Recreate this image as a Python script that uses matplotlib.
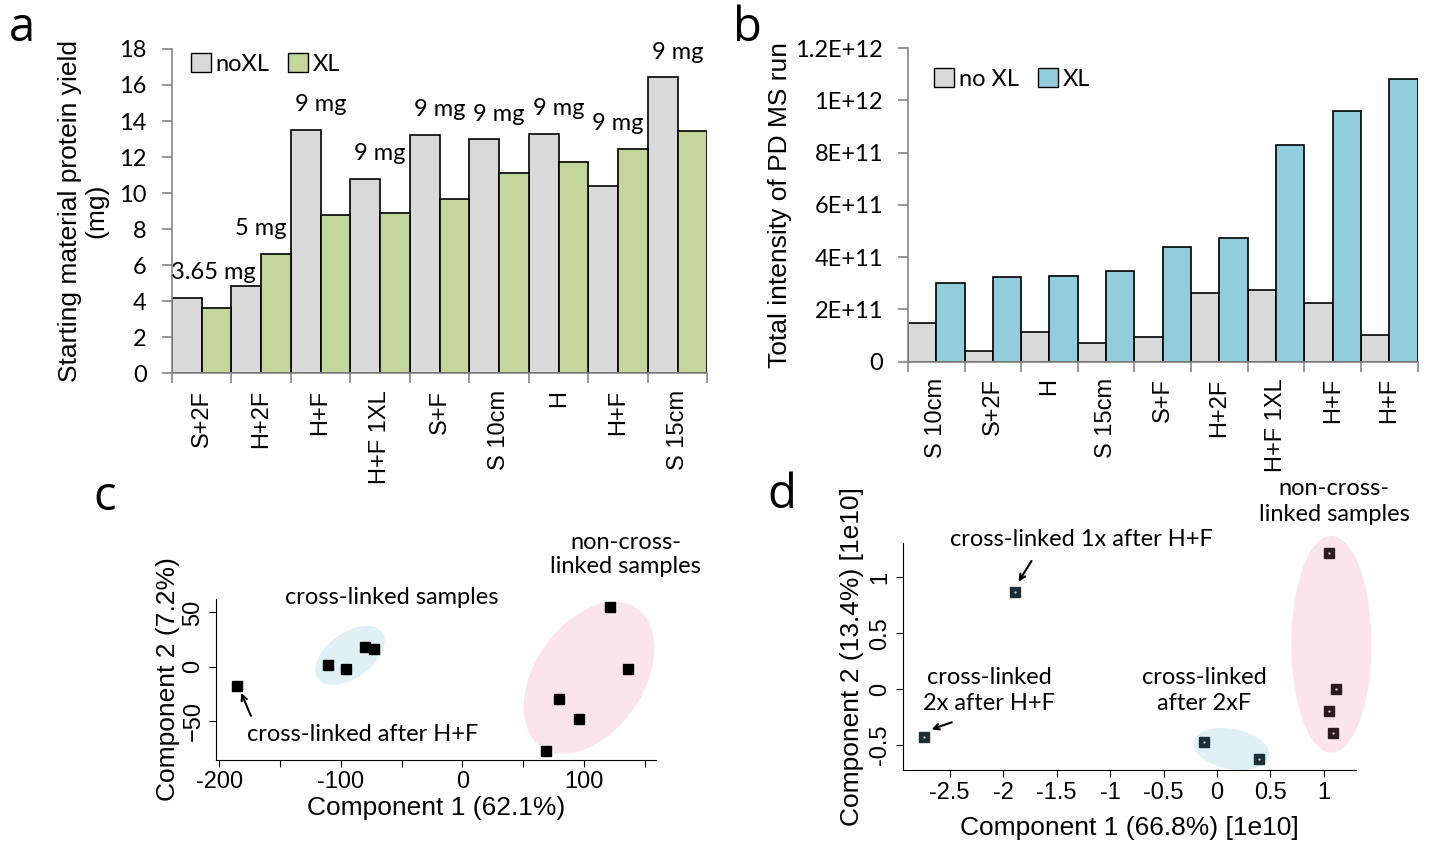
import matplotlib
matplotlib.use("Agg")
import matplotlib.pyplot as plt
import matplotlib.font_manager as fm
from matplotlib.patches import Ellipse, Patch
import numpy as np

# ---- data ----
a_cats = ["S+2F", "H+2F", "H+F", "H+F 1XL", "S+F", "S 10cm", "H", "H+F", "S 15cm"]
a_noxl = [4.18, 4.85, 13.5, 10.8, 13.24, 12.98, 13.28, 10.42, 16.42]
a_xl = [3.61, 6.63, 8.81, 8.89, 9.67, 11.11, 11.72, 12.44, 13.42]
a_amounts = ["3.65 mg", "5 mg", "9 mg", "9 mg", "9 mg", "9 mg", "9 mg", "9 mg", "9 mg"]

b_cats = ["S 10cm", "S+2F", "H", "S 15cm", "S+F", "H+2F", "H+F 1XL", "H+F", "H+F"]
b_noxl = [1.49e11, 0.41e11, 1.14e11, 0.73e11, 0.96e11, 2.63e11, 2.75e11, 2.24e11, 1.01e11]
b_xl = [3.00e11, 3.22e11, 3.28e11, 3.46e11, 4.39e11, 4.73e11, 8.30e11, 9.58e11, 10.83e11]
b_ticks = [0, 2e11, 4e11, 6e11, 8e11, 1e12, 1.2e12]
b_ticklabels = ["0", "2E+11", "4E+11", "6E+11", "8E+11", "1E+12", "1.2E+12"]

c_xl_x = [-111, -96, -80, -73]
c_xl_y = [1.6, -2.4, 18.4, 16.3]
c_hf_x = [-185.7]
c_hf_y = [-17.5]
c_no_x = [121, 136, 79, 96, 68.5]
c_no_y = [55.2, -2.4, -30, -48.1, -77.6]

d_xl1_x = [-1.888]
d_xl1_y = [0.866]
d_xl2_x = [-2.739]
d_xl2_y = [-0.427]
d_2f_x = [-0.125, 0.391]
d_2f_y = [-0.472, -0.63]
d_no_x = [1.049, 1.117, 1.05, 1.081]
d_no_y = [1.22, -0.003, -0.194, -0.391]

# ---- fonts ----
names = {f.name for f in fm.fontManager.ttflist}
hum = next((n for n in ["Lato", "Open Sans", "Roboto Condensed"] if n in names), "DejaVu Sans")
cond = dict(family=hum)
plt.rcParams["font.family"] = ["Liberation Sans", "DejaVu Sans"]

grey = "#d9d9d9"
green = "#c3d69b"
blue = "#92cddc"
spine = "#868686"

fig = plt.figure(figsize=(14.32, 8.43), dpi=100)


def bar_panel(ax, cats, v1, v2, c2):
    x = np.arange(len(cats))
    w = 0.5
    ax.bar(x - w / 2, v1, w, color=grey, edgecolor="black", linewidth=1.2)
    ax.bar(x + w / 2, v2, w, color=c2, edgecolor="black", linewidth=1.2)
    ax.set_xlim(-0.5, len(cats) - 0.5)
    for s in ["top", "right"]:
        ax.spines[s].set_visible(False)
    for s in ["left", "bottom"]:
        ax.spines[s].set_color(spine)
        ax.spines[s].set_linewidth(1.2)
    ax.set_xticks(np.arange(len(cats) + 1) - 0.5)
    ax.set_xticklabels([])
    ax.set_xticks(x, minor=True)
    ax.set_xticklabels(cats, minor=True, rotation=90, fontsize=17)
    ax.tick_params(axis="x", which="major", length=7, color=spine, width=1.2)
    ax.tick_params(axis="x", which="minor", length=0, pad=12)
    ax.tick_params(axis="y", length=7, color=spine, width=1.2, pad=11)


def square_legend(ax, c2, labels, pos):
    hs = [Patch(facecolor=grey, edgecolor="black"), Patch(facecolor=c2, edgecolor="black")]
    ax.legend(hs, labels, loc="center left", bbox_to_anchor=pos, ncol=2, frameon=False,
              borderpad=0, borderaxespad=0, handlelength=0.85, handleheight=0.85,
              handletextpad=0.2, columnspacing=0.8, prop=fm.FontProperties(size=17, **cond))


# ---- panel a ----
ax = fig.add_axes([0.120, 0.557, 0.374, 0.385])
bar_panel(ax, a_cats, a_noxl, a_xl, green)
ax.set_ylim(0, 18)
ax.set_yticks(range(0, 19, 2))
for t in ax.get_yticklabels():
    t.set(fontsize=17, **cond)
ax.set_ylabel("Starting material protein yield\n(mg)", fontsize=19, linespacing=1.1, labelpad=8)
for i, lab in enumerate(a_amounts):
    top = max(a_noxl[i], a_xl[i])
    dx = 0.2 if i == 0 else 0
    ax.text(i + dx, top + 1.4, lab, ha="center", va="center", fontsize=17, **cond)
square_legend(ax, green, ["noXL", "XL"], (0.035, 0.954))
fig.text(0.006, 0.967, "a", fontsize=34, family="Open Sans", va="center")

# ---- panel b ----
ax = fig.add_axes([0.634, 0.571, 0.356, 0.372])
bar_panel(ax, b_cats, b_noxl, b_xl, blue)
ax.set_ylim(0, 1.2e12)
ax.set_yticks(b_ticks)
ax.set_yticklabels(b_ticklabels)
for t in ax.get_yticklabels():
    t.set(fontsize=17, **cond)
ax.set_ylabel("Total intensity of PD MS run", fontsize=19, labelpad=2)
square_legend(ax, blue, ["no XL", "XL"], (0.051, 0.902))
fig.text(0.512, 0.967, "b", fontsize=34, family="Open Sans", va="center")


def pca_style(ax):
    for s in ["top", "right"]:
        ax.spines[s].set_visible(False)
    ax.tick_params(length=5, labelsize=17)
    for t in ax.get_yticklabels():
        t.set_rotation(90)
        t.set_va("center")


arrow = dict(arrowstyle="->", color="black", lw=1.5, shrinkA=0, shrinkB=0)

# ---- panel c ----
ax = fig.add_axes([0.151, 0.099, 0.307, 0.190])
ax.add_patch(Ellipse((-92.5, 10.5), 68, 40, angle=42, facecolor="#dff1f7", edgecolor="none"))
ax.add_patch(Ellipse((104, -10), 150, 92, angle=62, facecolor="#fbe4eb", edgecolor="none", clip_on=False))
ax.plot(c_xl_x, c_xl_y, "s", color="black", markersize=7.5, clip_on=False)
ax.plot(c_hf_x, c_hf_y, "s", color="black", markersize=7.5, clip_on=False)
ax.plot(c_no_x, c_no_y, "s", color="black", markersize=7.5, clip_on=False)
ax.set_xlim(-202.5, 159)
ax.set_ylim(-85.2, 62)
ax.set_xticks(np.arange(-200, 151, 50))
ax.set_xticklabels(["-200", "", "-100", "", "0", "", "100", ""])
ax.set_yticks([-50, 0, 50])
pca_style(ax)
ax.set_xlabel("Component 1 (62.1%)", fontsize=19, labelpad=2)
ax.set_ylabel("Component 2 (7.2%)", fontsize=19, labelpad=2)
ax.text(-58, 64, "cross-linked samples", ha="center", va="center", fontsize=17, **cond)
ax.text(134, 103, "non-cross-\nlinked samples", ha="center", va="center", fontsize=17,
        linespacing=1.2, **cond)
ax.text(-82, -62, "cross-linked after H+F", ha="center", va="center", fontsize=17, **cond)
ax.annotate("", xy=(-182, -24), xytext=(-174, -45), arrowprops=arrow, annotation_clip=False)
fig.text(0.065, 0.41, "c", fontsize=34, family="Open Sans", va="center")

# ---- panel d ----
ax = fig.add_axes([0.6306, 0.0866, 0.3163, 0.2697])
ax.add_patch(Ellipse((0.135, -0.537), 0.72, 0.36, angle=-10, facecolor="#dff1f7", edgecolor="none"))
ax.add_patch(Ellipse((1.07, 0.40), 0.75, 1.94, angle=0, facecolor="#fbe4eb", edgecolor="none", clip_on=False))
for xs, ys, col in [(d_xl1_x, d_xl1_y, "#1c2e36"), (d_xl2_x, d_xl2_y, "#1c2e36"),
                    (d_2f_x, d_2f_y, "#1c2e36"), (d_no_x, d_no_y, "#2b1b20")]:
    ax.plot(xs, ys, "s", color=col, markersize=7, markeredgecolor=col, clip_on=False)
    ax.plot(xs, ys, ".", color="#dddddd", markersize=1.2)
ax.set_xlim(-2.937, 1.30)
ax.set_ylim(-0.725, 1.31)
ax.set_xticks([-2.5, -2, -1.5, -1, -0.5, 0, 0.5, 1])
ax.set_xticklabels(["-2.5", "-2", "-1.5", "-1", "-0.5", "0", "0.5", "1"])
ax.set_yticks([-0.5, 0, 0.5, 1])
ax.set_yticklabels(["-0.5", "0", "0.5", "1"])
pca_style(ax)
ax.set_xlabel("Component 1 (66.8%) [1e10]", fontsize=19, labelpad=9)
ax.set_ylabel("Component 2 (13.4%) [1e10]", fontsize=19, labelpad=4)
ax.text(-1.27, 1.334, "cross-linked 1x after H+F", ha="center", va="center", fontsize=17, **cond)
ax.annotate("", xy=(-1.856, 0.961), xytext=(-1.735, 1.146), arrowprops=arrow, annotation_clip=False)
ax.text(-2.13, -0.01, "cross-linked\n2x after H+F", ha="center", va="center", fontsize=17,
        linespacing=1.3, **cond)
ax.annotate("", xy=(-2.67, -0.361), xytext=(-2.481, -0.298), arrowprops=arrow, annotation_clip=False)
ax.text(-0.121, -0.01, "cross-linked\nafter 2xF", ha="center", va="center", fontsize=17,
        linespacing=1.3, **cond)
ax.text(1.097, 1.677, "non-cross-\nlinked samples", ha="center", va="center", fontsize=17,
        linespacing=1.3, **cond)
fig.text(0.536, 0.413, "d", fontsize=34, family="Open Sans", va="center")

fig.savefig("out.png", dpi=100)
